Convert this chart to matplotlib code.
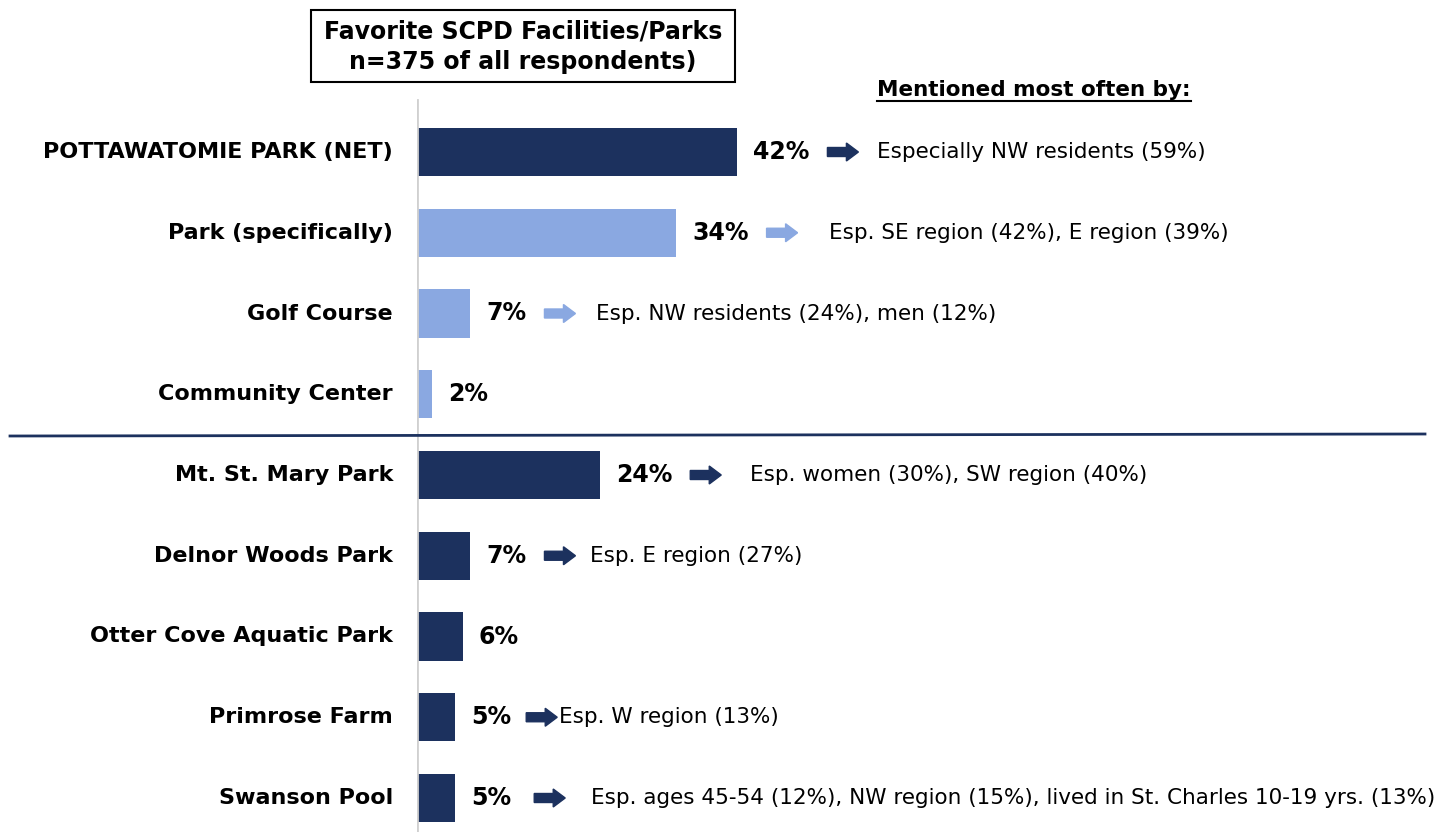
import numpy as np
import matplotlib
matplotlib.use('Agg')
import matplotlib.pyplot as plt
import matplotlib.transforms as mtransforms
from matplotlib.patches import Polygon, Rectangle
from matplotlib.lines import Line2D

# dados
categorias = ['POTTAWATOMIE PARK (NET)', 'Park (specifically)', 'Golf Course',
              'Community Center', 'Mt. St. Mary Park', 'Delnor Woods Park',
              'Otter Cove Aquatic Park', 'Primrose Farm', 'Swanson Pool']
valores = [42, 34, 7, 2, 24, 7, 6, 5, 5]
grupo = ['net', 'sub', 'sub', 'sub', 'net', 'net', 'net', 'net', 'net']
comentarios = ['Especially NW residents (59%)',
               'Esp. SE region (42%), E region (39%)',
               'Esp. NW residents (24%), men (12%)',
               None,
               'Esp. women (30%), SW region (40%)',
               'Esp. E region (27%)',
               None,
               'Esp. W region (13%)',
               'Esp. ages 45-54 (12%), NW region (15%), lived in St. Charles 10-19 yrs. (13%)']

# layout (pixels)
gap_texto = [19, 31, 21, 0, 29, 15, 0, 2, 26]
gap_seta = [18, 18, 18, 0, 18, 18, 0, 15, 23]

NAVY = '#1c315e'
LIGHT = '#8aa8e1'
cores = [NAVY if g == 'net' else LIGHT for g in grupo]

W, H = 1448, 832
fig = plt.figure(figsize=(W / 100, H / 100), dpi=100)
x0 = 417 / W
ax = fig.add_axes([x0, 0, 1 - x0, 1])
px = 7.62  # pixels por ponto percentual
ax.set_xlim(0, (W - 417) / px)
row = 80.75
ax.set_ylim(8 + (H - 798) / row, -152 / row)
ax.axis('off')

y = np.arange(len(categorias))
ax.barh(y, valores, height=0.6, color=cores, zorder=2)

# linha vertical do eixo
ax.axvline(0, ymin=0, ymax=1 - 100 / H, color='#d0d0d0', lw=2, zorder=3)

labels = []
for i, (cat, v) in enumerate(zip(categorias, valores)):
    ax.annotate(cat, (0, i), xytext=(-24, 0), textcoords='offset pixels',
                ha='right', va='center', fontsize=16, fontweight='bold')
    labels.append(ax.annotate(f'{v}%', (v, i), xytext=(16, 0), textcoords='offset pixels',
                              ha='left', va='center', fontsize=17, fontweight='bold'))

fig.canvas.draw()
r = fig.canvas.get_renderer()

for i, v in enumerate(valores):
    if comentarios[i] is None:
        continue
    bb = labels[i].get_window_extent(r)
    xd, yd = ax.transData.transform((v, i))
    ax_start = bb.x1 - xd + gap_seta[i]
    seta = np.array([[0, -4.5], [19, -4.5], [19, -9], [31, 0],
                     [19, 9], [19, 4.5], [0, 4.5]], dtype=float)
    seta[:, 0] += ax_start
    tr = mtransforms.Affine2D() + mtransforms.ScaledTranslation(v, i, ax.transData)
    ax.add_patch(Polygon(seta, closed=True, transform=tr, color=cores[i],
                         clip_on=False, zorder=4))
    ax.annotate(comentarios[i], (v, i), xytext=(ax_start + 31 + gap_texto[i], 0),
                textcoords='offset pixels', ha='left', va='center', fontsize=15.5)

# linha separadora
fig.add_artist(Line2D([10 / W, 1425 / W], [1 - 436 / H, 1 - 434 / H],
                      color=NAVY, lw=2))

# caixa do titulo
fig.add_artist(Rectangle((311 / W, 1 - 82 / H), (735 - 311) / W, 72 / H,
                         fill=False, ec='black', lw=1.5, transform=fig.transFigure))
fig.text(523 / W, 1 - 47 / H, 'Favorite SCPD Facilities/Parks\nn=375 of all respondents)',
         ha='center', va='center', fontsize=17, fontweight='bold', linespacing=1.32)

t = fig.text(877 / W, 1 - 90 / H, 'Mentioned most often by:', ha='left', va='center',
             fontsize=15.5, fontweight='bold')
fig.canvas.draw()
bb = t.get_window_extent()
fig.add_artist(Line2D([bb.x0 / W, bb.x1 / W], [(bb.y0 - 1) / H] * 2, color='black', lw=1.5))

fig.savefig('out.png', dpi=100)
